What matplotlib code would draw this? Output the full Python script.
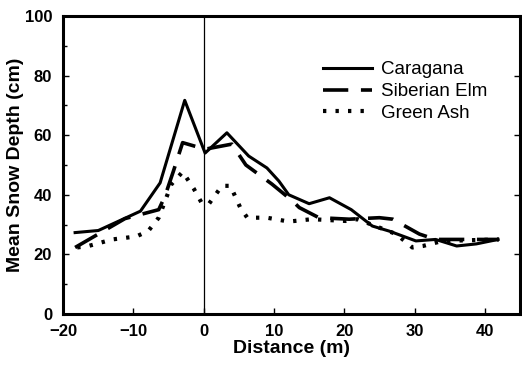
import matplotlib.pyplot as plt

"""Snow depth profiles across shelterbelts of three tree species"""

caragana_x = [-18.3, -15, -12.6, -9, -6.2, -2.7, 0.2, 3.3, 6.4, 9, 10.7, 12.1, 15, 17.9, 21, 24, 26.4, 30.2, 33, 36, 38.8, 41.9]
caragana_y = [27.3, 28, 30.6, 34.5, 44, 71.7, 54, 60.8, 53, 49, 44.6, 40, 37, 39, 35, 29.5, 27.8, 24.5, 25, 22.8, 23.5, 25]

elm_x = [-18.3, -11.2, -6.4, -5.5, -4.3, -3, 0.2, 4, 6, 9.7, 12.6, 13.6, 16.4, 20.7, 25, 26.9, 30.7, 33, 42]
elm_y = [22.3, 32, 35, 39.6, 48, 57.5, 55.3, 57, 50, 43.6, 38, 35.7, 32.3, 31.8, 32.3, 31.8, 26.8, 25, 25]

ash_x = [-18, -16.4, -13, -9.6, -7.9, -6.4, -4.6, -3, -1.4, -0.3, 0.7, 2.6, 3.8, 5.2, 6.2, 9, 12.1, 15.4, 20.2, 21.9, 27.4, 29.7, 31.2, 34, 42]
ash_y = [22.3, 22.8, 25, 26, 27.8, 32.3, 43.5, 47.7, 42, 37.3, 36.8, 43, 43, 35.7, 32.3, 32.3, 31, 31.8, 31.2, 31.8, 26.8, 22.3, 22.8, 24.5, 25]

plt.rcParams['font.family'] = ['Liberation Sans', 'DejaVu Sans']
plt.rcParams['font.weight'] = 'bold'

fig = plt.figure(figsize=(5.22, 3.65), dpi=100)
ax = fig.add_axes([0.121, 0.14, 0.875, 0.816])

ax.plot(caragana_x, caragana_y, color='black', lw=2.2, label='Caragana')
ax.plot(elm_x, elm_y, color='black', lw=2.6, dashes=(7, 3.5), label='Siberian Elm')
ax.plot(ash_x, ash_y, color='black', lw=3, dashes=(0.8, 2.2), label='Green Ash')
ax.axvline(0, color='black', lw=0.9)

ax.set_xlim(-20, 45)
ax.set_ylim(0, 100)
ax.set_xticks([-20, -10, 0, 10, 20, 30, 40])
ax.set_yticks([0, 20, 40, 60, 80, 100])
ax.set_yticks(range(0, 101, 10), minor=True)
ax.tick_params(direction='in', labelsize=12, width=1, length=4, right=True)
ax.tick_params(axis='y', pad=8)
ax.tick_params(axis='x', pad=7)
ax.tick_params(which='minor', direction='in', length=3, width=1)
for lab in ax.get_xticklabels() + ax.get_yticklabels():
    lab.set_fontweight('bold')
for sp in ax.spines.values():
    sp.set_linewidth(2.2)

ax.set_xlabel('Distance (m)', fontsize=14, fontweight='bold')
ax.set_ylabel('Mean Snow Depth (cm)', fontsize=14, fontweight='bold')
ax.xaxis.set_label_coords(0.5, -0.087)
ax.yaxis.set_label_coords(-0.085, 0.5)

leg = ax.legend(loc='upper right', bbox_to_anchor=(0.95, 0.88), frameon=False,
                fontsize=13.5, handlelength=2.6, handletextpad=0.5,
                labelspacing=0.25, borderpad=0)
for t in leg.get_texts():
    t.set_fontweight('normal')

fig.savefig('out.png', dpi=100)
